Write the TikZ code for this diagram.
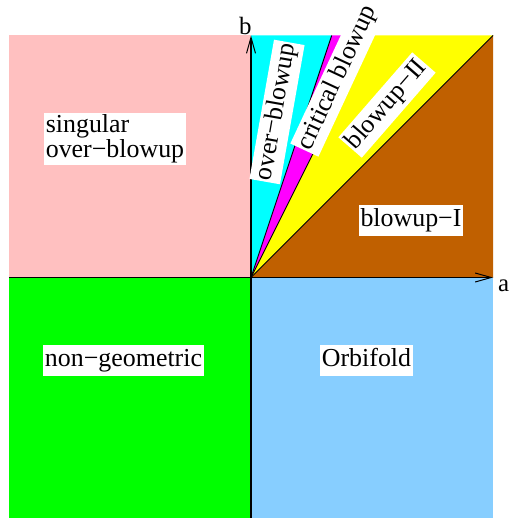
\documentclass[tikz,border=0pt]{standalone}
\usepackage{fontspec}
\setmainfont{Liberation Serif}
\usetikzlibrary{arrows.meta}
\definecolor{pinkR}{HTML}{FFC0C0}
\definecolor{greenR}{HTML}{00FF00}
\definecolor{blueR}{HTML}{87CEFF}
\definecolor{brownR}{HTML}{C06000}
\definecolor{cyanR}{HTML}{00FFFF}
\definecolor{magentaR}{HTML}{FF00FF}
\definecolor{yellowR}{HTML}{FFFF00}
\begin{document}
\begin{tikzpicture}[x=1bp,y=-1bp,
  region/.style={fill=white,inner xsep=1.5bp,inner ysep=3.5bp,
    font=\fontsize{26}{21.5}\selectfont,text height=18bp,text depth=6bp},
  region2/.style={fill=white,inner xsep=1.5bp,inner ysep=2bp,align=left,
    font=\fontsize{26}{21.5}\selectfont},
  axislabel/.style={inner sep=0pt,font=\fontsize{25}{30}\selectfont},
  axis/.style={line width=1.1bp,-{Straight Barb[length=16bp,width=9bp,line width=1bp]}},
  border/.style={line width=0.9bp}]
\useasboundingbox (0,0) rectangle (509,518);
% key points of the plane
\coordinate (O) at (251,277.5);
\coordinate (L) at (9,277.5);
\coordinate (R) at (493,277.5);
\coordinate (T) at (251,35.5);
\coordinate (B) at (251,518);
\coordinate (t3) at (331.7,35.5);
\coordinate (t2) at (372,35.5);
\coordinate (t1) at (493,35.5);
% quadrant and wedge fills
\fill[pinkR] (9,35.5) rectangle (O);
\fill[greenR] (9,518) rectangle (O);
\fill[blueR] (O) rectangle (493,518);
\fill[cyanR] (O) -- (T) -- (t3) -- cycle;
\fill[magentaR] (O) -- (t3) -- (t2) -- cycle;
\fill[yellowR] (O) -- (t2) -- (t1) -- cycle;
\fill[brownR] (O) -- (t1) -- (R) -- cycle;
% wedge boundaries
\draw[border] (O) -- (t3);
\draw[border] (O) -- (t2);
\draw[border] (O) -- (t1);
% axes
\draw[axis] (L) -- (R);
\draw[axis] (B) -- (T);
\node[axislabel,anchor=base west] (alab) at (498,291) {a};
\node[axislabel,anchor=base west] (blab) at (239,35) {b};
% region labels
\node[region2] (sing) at (115,139) {singular\\over−blowup};
\node[region] (nong) at (123.5,360.5) {non−geometric};
\node[region] (orb) at (366.5,360.5) {Orbifold};
\node[region] (bI) at (411,220) {blowup−I};
\node[region,rotate=80] (ob) at (277,112) {over−blowup};
\node[region,rotate=65] (crit) at (338,78) {critical blowup};
\node[region,rotate=49] (bII) at (387,105) {blowup−II};
\end{tikzpicture}
\end{document}
